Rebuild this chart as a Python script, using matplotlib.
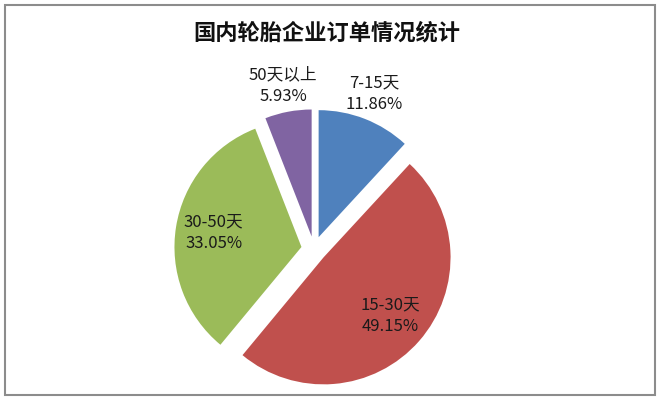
import numpy as np
import matplotlib
matplotlib.use("Agg")
import matplotlib.pyplot as plt
from matplotlib.patches import Rectangle

plt.rcParams['font.family'] = ['Noto Sans CJK SC', 'DejaVu Sans']

title = "国内轮胎企业订单情况统计"
categories = ["7-15天", "15-30天", "30-50天", "50天以上"]
values = [11.86, 49.15, 33.05, 5.93]
colors = ["#4F81BD", "#C0504D", "#9BBB59", "#8064A2"]
label_inside = [False, True, True, False]

W, H = 660, 400
fig = plt.figure(figsize=(W / 100, H / 100), dpi=100)
fig.patch.set_facecolor("white")

# chart border
fig.add_artist(Rectangle((5 / W, 5 / H), 650 / W, 390 / H, transform=fig.transFigure,
                         fill=False, edgecolor="#8c8c8c", linewidth=1.5))

cx, cy, half = 314, 400 - 249, 150
ax = fig.add_axes([(cx - half) / W, (cy - half) / H, 2 * half / W, 2 * half / H])

explode = [0.1] * len(values)
wedges, _ = ax.pie(values, colors=colors, startangle=90, counterclock=False,
                   explode=explode, wedgeprops=dict(linewidth=0))

lim = half / 127
ax.set_xlim(-lim, lim)
ax.set_ylim(-lim, lim)
ax.set_aspect("equal")
ax.axis("off")

for w, cat, v, inside, ex in zip(wedges, categories, values, label_inside, explode):
    mid = np.deg2rad((w.theta1 + w.theta2) / 2)
    r = (0.8 if inside else 1.31)
    x, y = r * np.cos(mid), r * np.sin(mid)
    ax.text(x, y, f"{cat}\n{v:.2f}%", ha="center", va="center", fontsize=12,
            color="#1a1a1a", linespacing=1.35)

fig.text(327 / W, 1 - 33 / H, title, ha="center", va="center", fontsize=16,
         fontweight="bold", color="#111111")

fig.savefig("out.png", dpi=100)
